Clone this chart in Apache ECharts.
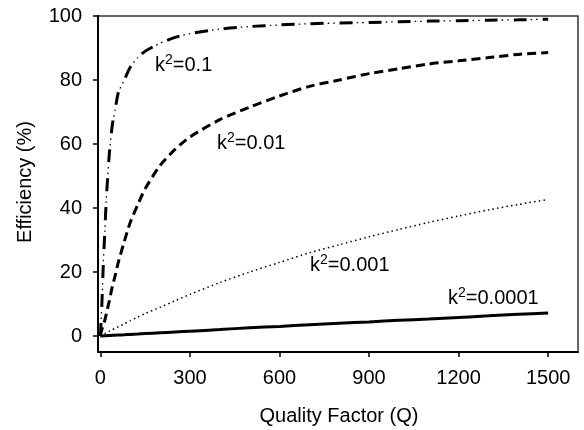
<!DOCTYPE html>
<html>
<head>
<meta charset="utf-8">
<script src="https://cdn.jsdelivr.net/npm/echarts@6/dist/echarts.min.js"></script>
<style>
  html, body { margin: 0; padding: 0; background: #fff; }
  #chart { width: 584px; height: 430px; }
</style>
</head>
<body>
<div id="chart"></div>
<script>
// quality factor samples (x) and efficiency (%) for each k^2
var qValues = [0, 2, 5, 10, 15, 20, 30, 40, 50, 60, 80, 100, 125, 150, 200, 250, 300, 400, 500, 600, 700, 800, 900, 1000, 1100, 1200, 1300, 1400, 1500];
var effK01 = [0, 4, 10, 23, 33, 43, 57, 66, 71, 76, 80, 84, 87, 89, 91.5, 93.3, 94.5, 95.9, 96.7, 97.2, 97.6, 97.8, 98, 98.2, 98.4, 98.5, 98.7, 98.8, 99];
var effK001 = [0, 1, 2, 3.5, 5, 7, 11, 15.5, 19, 23, 29.5, 35.5, 41, 46, 53.3, 58.3, 62.2, 67.6, 71.5, 75, 78, 80, 82, 83.5, 85, 86, 87, 88, 88.6];
var effK0001 = [0, 0.1, 0.25, 0.5, 0.7, 1, 1.5, 2, 2.4, 2.9, 3.8, 4.8, 5.9, 7, 9, 11, 13, 16.7, 20, 23, 26, 28.5, 31, 33.3, 35.5, 37.5, 39.4, 41.1, 42.7];
var effK00001 = [0, 0, 0, 0.05, 0.08, 0.1, 0.15, 0.2, 0.25, 0.3, 0.4, 0.5, 0.6, 0.75, 1, 1.25, 1.5, 2, 2.6, 3, 3.5, 4, 4.4, 4.9, 5.3, 5.8, 6.3, 6.8, 7.2];

var xTicks = [0, 300, 600, 900, 1200, 1500];
var yTicks = [0, 20, 40, 60, 80, 100];

var curveLabels = [
  { k: '0.1', x: 155, y: 65 },
  { k: '0.01', x: 217, y: 143 },
  { k: '0.001', x: 310, y: 265 },
  { k: '0.0001', x: 448, y: 298 }
];

function pairs(vals) {
  return qValues.map(function (q, i) { return [q, vals[i]]; });
}

var FONT = 'Liberation Sans, Arial, sans-serif';

function lineSeries(vals, width, type, offset) {
  return {
    type: 'line',
    data: pairs(vals),
    showSymbol: false,
    smooth: 0.25,
    silent: true,
    animation: false,
    lineStyle: { color: '#000', width: width, type: type, dashOffset: offset || 0 }
  };
}

var chart = echarts.init(document.getElementById('chart'));

chart.setOption({
  animation: false,
  grid: {
    left: 98, right: 6, top: 16, bottom: 78,
    show: true, borderColor: '#333', borderWidth: 1.5
  },
  xAxis: {
    type: 'value',
    min: -8, max: 1600,
    splitLine: { show: false },
    axisLine: { onZero: false, lineStyle: { color: '#000', width: 2 } },
    axisTick: { customValues: xTicks, length: 5, lineStyle: { color: '#000', width: 1.5 } },
    axisLabel: {
      customValues: xTicks, margin: 16, fontSize: 20, color: '#000', fontFamily: FONT,
      formatter: function (v) { return String(v); }
    }
  },
  yAxis: {
    type: 'value',
    min: -5, max: 100,
    splitLine: { show: false },
    axisLine: { onZero: false, lineStyle: { color: '#000', width: 2 } },
    axisTick: { customValues: yTicks, length: 5, lineStyle: { color: '#000', width: 1.5 } },
    axisLabel: {
      customValues: yTicks, margin: 16, fontSize: 20, color: '#000', fontFamily: FONT,
      formatter: function (v) { return String(v); }
    }
  },
  series: [
    // k^2 = 0.1 : dash-dot-dot, drawn as thick dashes plus thin dots
    lineSeries(effK01, 3, [13, 16], 0),
    lineSeries(effK01, 1.3, [1.5, 4, 1.5, 22], 12),
    // k^2 = 0.01 : dashed
    lineSeries(effK001, 3, [9, 5], 0),
    // k^2 = 0.001 : dotted
    lineSeries(effK0001, 1.5, [1.5, 3.2], 0),
    // k^2 = 0.0001 : solid
    lineSeries(effK00001, 3, 'solid', 0)
  ],
  graphic: curveLabels.map(function (l) {
    return {
      type: 'text', left: l.x, top: l.y - 12, silent: true,
      style: {
        text: '{b|k}{s|2}{b|=' + l.k + '}',
        fill: '#000', fontFamily: FONT,
        rich: {
          b: { fontSize: 20, lineHeight: 24, fontFamily: FONT, fill: '#000' },
          s: { fontSize: 14, lineHeight: 14, verticalAlign: 'top', fontFamily: FONT, fill: '#000' }
        }
      }
    };
  }).concat([
    {
      type: 'text', x: 25, y: 182, rotation: Math.PI / 2, silent: true,
      style: { text: 'Efficiency (%)', fontSize: 20, fill: '#000', fontFamily: FONT, align: 'center', verticalAlign: 'middle' }
    },
    {
      type: 'text', x: 339, y: 416, silent: true,
      style: { text: 'Quality Factor (Q)', fontSize: 20, fill: '#000', fontFamily: FONT, align: 'center', verticalAlign: 'middle' }
    }
  ])
});
</script>
</body>
</html>
